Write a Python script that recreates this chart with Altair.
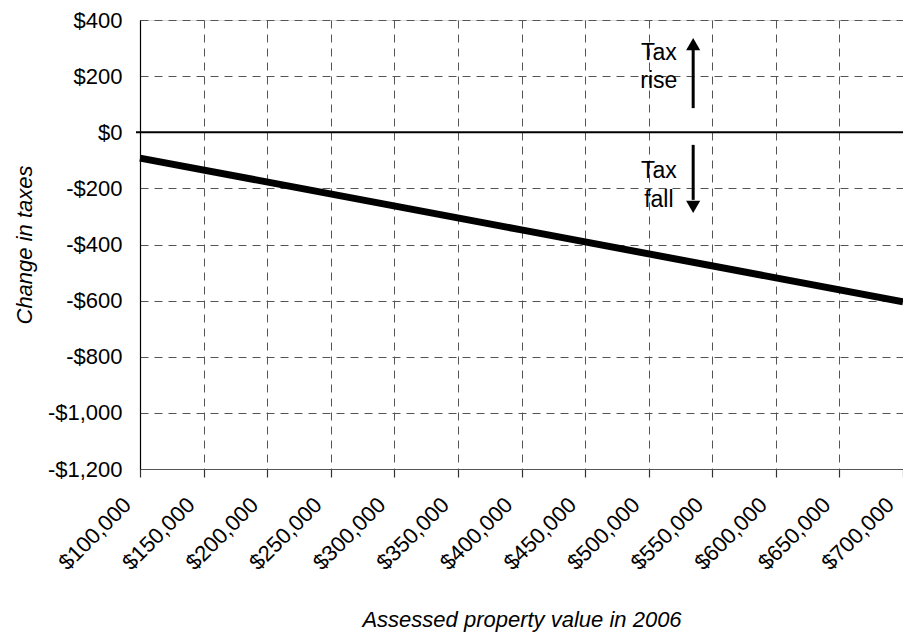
import altair as alt
import pandas as pd

# Data
line_x = [100000, 400000, 700000]
line_y = [-92, -348, -604]

x_ticks = [100000, 150000, 200000, 250000, 300000, 350000, 400000,
           450000, 500000, 550000, 600000, 650000, 700000]
y_ticks = [-1200, -1000, -800, -600, -400, -200, 0, 200, 400]

ann_x = [508000, 508000, 508000, 508000]
ann_y = [257, 158, -163, -266]
ann_text = ["Tax", "rise", "Tax", "fall"]

arrow_x = [535000, 535000]
arrow_from = [86, -45]
arrow_to = [293, -241]
head_y = [314, -266]
head_shape = ["triangle-up", "triangle-down"]

FONT = "Liberation Sans"
W, H = 763, 449

line_df = pd.DataFrame({"x": line_x, "y": line_y})
ann_df = pd.DataFrame({"x": ann_x, "y": ann_y, "t": ann_text})
shaft_df = pd.DataFrame({"x": arrow_x, "y": arrow_from, "y2": arrow_to})
head_df = pd.DataFrame({"x": arrow_x, "y": head_y, "shape": head_shape})
zero_df = pd.DataFrame({"y": [0]})

xscale = alt.Scale(domain=[100000, 700000], nice=False, zero=False)
yscale = alt.Scale(domain=[-1200, 400], nice=False, zero=False)

x_axis = alt.Axis(
    values=x_ticks,
    labelExpr="'$' + format(datum.value, ',')",
    title="Assessed property value in 2006",
    titleFontStyle="italic", titleFontWeight="normal", titleFontSize=22,
    titleFont=FONT, titleColor="black",
    titleX=W / 2, titleY=157, titleBaseline="alphabetic", titleAnchor="middle",
    labelAngle=315, labelAlign="right", labelBaseline="middle",
    labelPadding=24, labelOffset=-13, labelFontSize=22, labelFont=FONT,
    labelColor="black", labelFlush=False, labelOverlap=False, labelBound=False,
    grid=True, gridDash=[8, 6], gridColor="#555555", gridWidth=1, gridOpacity=1,
    domainColor="#555555", domainWidth=1.2,
    ticks=True, tickSize=8, tickColor="#333333", tickWidth=1.2,
)
y_axis = alt.Axis(
    values=y_ticks,
    labelExpr="datum.value < 0 ? '-$' + format(-datum.value, ',') : '$' + format(datum.value, ',')",
    title="Change in taxes",
    titleFontStyle="italic", titleFontWeight="normal", titleFontSize=22,
    titleFont=FONT, titleColor="black",
    titleAngle=270, titleX=-116, titleY=H / 2, titleBaseline="middle", titleAlign="center",
    labelPadding=18, labelFontSize=22, labelFont=FONT, labelColor="black",
    labelFlush=False, labelOverlap=False, labelBound=False,
    grid=True, gridDash=[8, 6], gridColor="#555555", gridWidth=1, gridOpacity=1,
    domainColor="black", domainWidth=1.2,
    ticks=False,
)

x_enc = alt.X("x:Q", scale=xscale, axis=x_axis)
y_enc = alt.Y("y:Q", scale=yscale, axis=y_axis)

line = alt.Chart(line_df).mark_line(color="black", strokeWidth=7).encode(x=x_enc, y=y_enc)

zero = alt.Chart(zero_df).mark_rule(color="black", strokeWidth=1.8).encode(
    x=alt.value(-4), x2=alt.value(W), y=alt.Y("y:Q", scale=yscale, axis=y_axis)
)

ann = alt.Chart(ann_df).mark_text(
    font=FONT, fontSize=23, color="black", align="center", baseline="alphabetic"
).encode(x=x_enc, y=y_enc, text="t:N")

shaft = alt.Chart(shaft_df).mark_rule(color="black", strokeWidth=3).encode(
    x=x_enc, y=y_enc, y2="y2:Q"
)

head = alt.Chart(head_df).mark_point(filled=True, color="black", size=200, opacity=1).encode(
    x=x_enc, y=y_enc,
    shape=alt.Shape("shape:N", scale=None, legend=None),
)

chart = alt.layer(line, zero, shaft, head, ann).properties(
    width=W, height=H,
    autosize=alt.AutoSizeParams(type="none"),
    padding={"left": 140, "top": 20, "right": 0, "bottom": 164},
    background="white",
).configure_view(stroke=None).configure(font=FONT)

chart.save("out.html", embed_options={"renderer": "svg", "actions": False})
